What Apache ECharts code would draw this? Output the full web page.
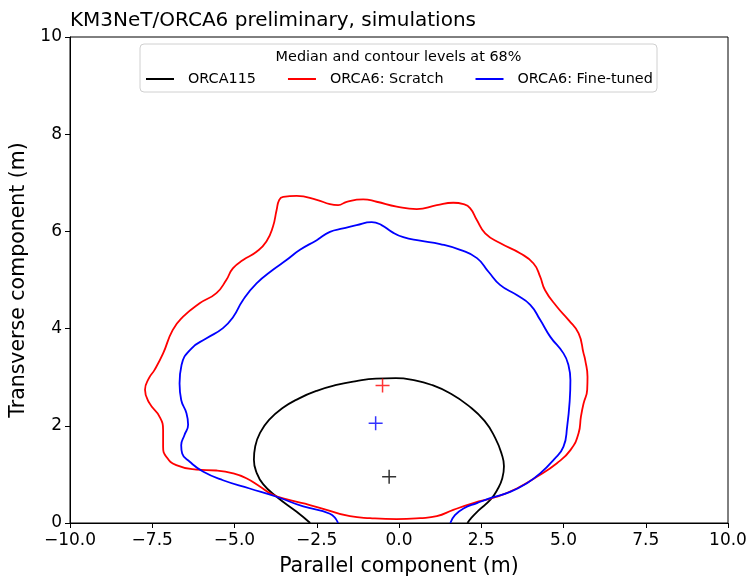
<!DOCTYPE html>
<html>
<head>
<meta charset="utf-8">
<script src="https://cdn.jsdelivr.net/npm/echarts@6/dist/echarts.min.js"></script>
<style>
  html, body { margin: 0; padding: 0; background: #fff; }
  #chart { width: 749px; height: 577px; }
</style>
</head>
<body>
<div id="chart"></div>
<script>
// Axis ranges and tick spacing
const xRange = [-10, 10];
const xStep = 2.5;
const yRange = [0, 10];
const yStep = 2;

// Series names
const seriesNames = ['ORCA115', 'ORCA6: Scratch', 'ORCA6: Fine-tuned'];
const seriesColors = ['#000000', '#ff0000', '#0000ff'];

// 68% contour of ORCA115 (parallel, transverse) in metres
const contourOrca115 = [
  [-2.70, 0], [-3.11, 0.23], [-3.72, 0.54], [-4.13, 0.80], [-4.33, 1.04],
  [-4.41, 1.30], [-4.37, 1.58], [-4.22, 1.86], [-3.95, 2.12], [-3.55, 2.36],
  [-3.05, 2.56], [-2.50, 2.72], [-1.90, 2.84], [-1.30, 2.92], [-0.70, 2.97],
  [-0.10, 2.98], [0.45, 2.94], [1.00, 2.84], [1.55, 2.67], [2.10, 2.42],
  [2.60, 2.10], [2.93, 1.74], [3.12, 1.42], [3.19, 1.17], [3.14, 0.92],
  [3.00, 0.70], [2.78, 0.48], [2.42, 0.26], [2.18, 0.09], [2.08, 0]
];

// 68% contour of ORCA6 trained from scratch (closed loop)
const contourScratch = [
  [-2.10, 0.25], [-1.49, 0.14], [-0.88, 0.10], [-0.07, 0.08], [0.64, 0.10],
  [1.15, 0.14], [1.65, 0.27], [2.26, 0.41], [2.97, 0.54], [3.58, 0.71],
  [4.19, 0.95], [4.80, 1.23], [5.21, 1.50], [5.46, 1.85], [5.53, 2.19],
  [5.61, 2.46], [5.72, 2.74], [5.73, 3.01], [5.66, 3.35], [5.61, 3.49],
  [5.46, 3.90], [5.15, 4.18], [4.80, 4.45], [4.44, 4.79], [4.29, 5.07],
  [4.09, 5.34], [3.68, 5.55], [3.07, 5.76], [2.62, 5.96], [2.37, 6.23],
  [2.16, 6.48], [1.96, 6.56], [1.65, 6.59], [1.15, 6.54], [0.54, 6.46],
  [-0.07, 6.51], [-0.68, 6.61], [-1.09, 6.66], [-1.59, 6.61], [-1.85, 6.54],
  [-2.10, 6.56], [-2.50, 6.65], [-3.11, 6.73], [-3.52, 6.71], [-3.64, 6.65],
  [-3.72, 6.44], [-3.83, 6.10], [-4.03, 5.79], [-4.33, 5.58], [-4.74, 5.41],
  [-5.05, 5.24], [-5.25, 5.00], [-5.55, 4.73], [-6.06, 4.52], [-6.57, 4.24],
  [-6.88, 3.97], [-7.17, 3.49], [-7.43, 3.15], [-7.60, 2.98], [-7.72, 2.74],
  [-7.58, 2.46], [-7.28, 2.19], [-7.17, 1.91], [-7.17, 1.57], [-7.07, 1.36],
  [-6.77, 1.19], [-6.16, 1.10], [-5.55, 1.08], [-5.04, 1.02], [-4.64, 0.92],
  [-4.23, 0.75], [-3.83, 0.58], [-3.32, 0.47], [-2.71, 0.37], [-2.10, 0.25]
];

// 68% contour of ORCA6 fine-tuned
const contourFineTuned = [
  [-1.85, 0], [-2.10, 0.19], [-2.91, 0.34], [-3.72, 0.54], [-4.54, 0.71],
  [-5.35, 0.88], [-5.96, 1.06], [-6.36, 1.26], [-6.59, 1.43], [-6.62, 1.60],
  [-6.52, 1.81], [-6.41, 2.02], [-6.46, 2.26], [-6.62, 2.53], [-6.67, 2.87],
  [-6.61, 3.25], [-6.31, 3.59], [-5.85, 3.80], [-5.35, 4.01], [-5.04, 4.24],
  [-4.74, 4.59], [-4.33, 4.93], [-3.83, 5.21], [-3.42, 5.41], [-3.01, 5.62],
  [-2.50, 5.82], [-2.10, 5.99], [-1.70, 6.06], [-1.29, 6.13], [-0.83, 6.19],
  [-0.53, 6.13], [-0.22, 5.99], [0.13, 5.88], [0.64, 5.81], [1.25, 5.74],
  [1.86, 5.62], [2.37, 5.45], [2.72, 5.17], [3.07, 4.90], [3.58, 4.69],
  [3.99, 4.49], [4.29, 4.18], [4.60, 3.83], [5.00, 3.49], [5.15, 3.25],
  [5.21, 2.94], [5.19, 2.53], [5.11, 1.98], [5.00, 1.57], [4.70, 1.30],
  [4.29, 1.02], [3.89, 0.82], [3.38, 0.64], [2.77, 0.51], [2.37, 0.41],
  [1.96, 0.30], [1.70, 0.16], [1.56, 0]
];

// Medians (parallel, transverse)
const medianOrca115 = [-0.30, 0.95];
const medianScratch = [-0.50, 2.83];
const medianFineTuned = [-0.71, 2.05];

const contours = [contourOrca115, contourScratch, contourFineTuned];
const medians = [medianOrca115, medianScratch, medianFineTuned];

const FONT = 'DejaVu Sans';
const plusSymbol = 'path://M0,6.25H14V7.75H0Z M6.25,0H7.75V14H6.25Z';

const chart = echarts.init(document.getElementById('chart'), null, { renderer: 'canvas' });

const series = [];
contours.forEach((pts, i) => {
  series.push({
    name: seriesNames[i],
    type: 'line',
    data: pts,
    smooth: 0.5,
    showSymbol: false,
    symbol: 'none',
    clip: true,
    lineStyle: { color: seriesColors[i], width: 1.8 },
    itemStyle: { color: seriesColors[i] },
    z: 3
  });
});
medians.forEach((m, i) => {
  series.push({
    name: seriesNames[i] + ' median',
    type: 'scatter',
    data: [m],
    symbol: plusSymbol,
    symbolSize: 14,
    itemStyle: { color: seriesColors[i] },
    z: 4
  });
});

const option = {
  backgroundColor: '#ffffff',
  animation: false,
  textStyle: { fontFamily: FONT },
  title: {
    text: 'KM3NeT/ORCA6 preliminary, simulations',
    left: 70,
    top: 11,
    padding: 0,
    textStyle: { fontFamily: FONT, fontSize: 20, fontWeight: 'normal', color: '#000' }
  },
  grid: {
    left: 70, top: 37, right: 21, bottom: 54,
    outerBoundsMode: 'none',
    containLabel: false,
    show: true, borderColor: '#000', borderWidth: 1
  },
  legend: {
    data: seriesNames,
    left: 146,
    top: 72,
    padding: 0,
    z: 10,
    icon: 'rect',
    itemWidth: 28,
    itemHeight: 2,
    itemGap: 32,
    inactiveColor: '#000',
    textStyle: { fontFamily: FONT, fontSize: 14.4, color: '#000', padding: [0, 0, 0, 9] }
  },
  xAxis: {
    type: 'value',
    min: xRange[0], max: xRange[1], interval: xStep,
    name: 'Parallel component (m)',
    nameLocation: 'middle',
    nameGap: 33,
    nameTextStyle: { fontFamily: FONT, fontSize: 20.5, color: '#000' },
    axisLine: { show: true, onZero: false, lineStyle: { color: '#000', width: 1 } },
    axisTick: { show: true, inside: false, length: 5, lineStyle: { color: '#000', width: 1 } },
    axisLabel: {
      fontFamily: FONT, fontSize: 17, color: '#000', margin: 9,
      formatter: v => (v < 0 ? '\u2212' : '') + Math.abs(v).toFixed(1)
    },
    splitLine: { show: false }
  },
  yAxis: {
    type: 'value',
    min: yRange[0], max: yRange[1], interval: yStep,
    name: 'Transverse component (m)',
    nameLocation: 'middle',
    nameGap: 35,
    nameTextStyle: { fontFamily: FONT, fontSize: 20.5, color: '#000' },
    axisLine: { show: true, onZero: false, lineStyle: { color: '#000', width: 1 } },
    axisTick: { show: true, inside: false, length: 5, lineStyle: { color: '#000', width: 1 } },
    axisLabel: { fontFamily: FONT, fontSize: 17, color: '#000', margin: 8 },
    splitLine: { show: false }
  },
  graphic: [
    {
      type: 'rect',
      shape: { x: 140, y: 44, width: 517, height: 48, r: 4 },
      style: { fill: 'rgba(255,255,255,0.8)', stroke: '#d0d0d0', lineWidth: 1 },
      z: 5
    },
    {
      type: 'text',
      x: 398.5, y: 57,
      style: {
        text: 'Median and contour levels at 68%',
        fontFamily: FONT, fontSize: 14.4, fill: '#000',
        align: 'center', verticalAlign: 'middle'
      },
      z: 6
    }
  ],
  series: series
};

chart.setOption(option);
</script>
</body>
</html>
